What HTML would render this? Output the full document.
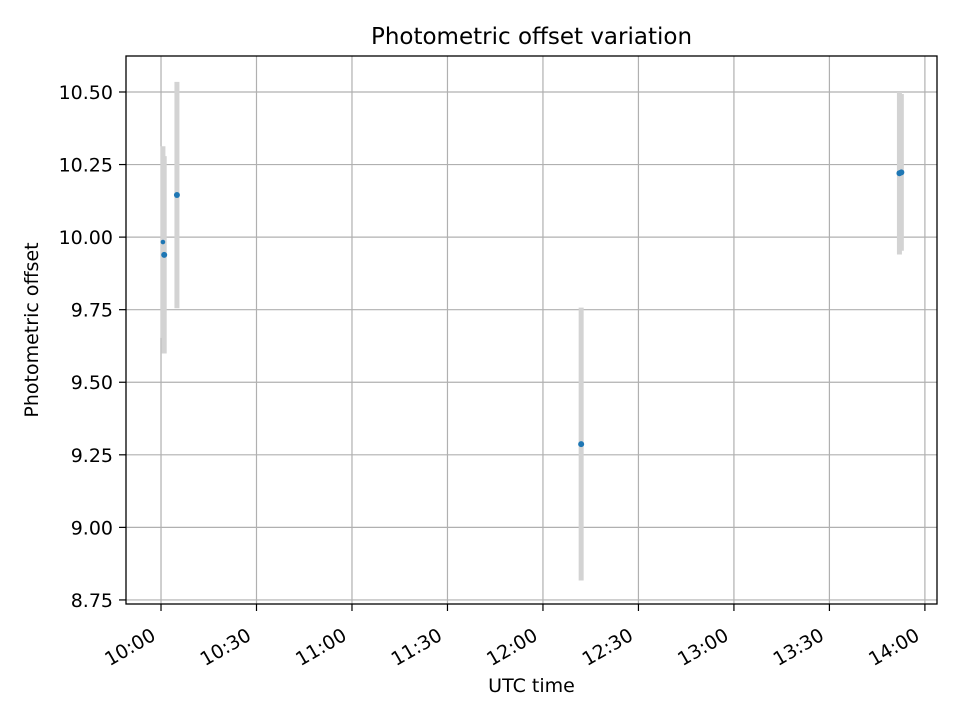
<!DOCTYPE html>
<html><head><meta charset="utf-8"><style>body{margin:0;background:#fff}svg text{font-family:"DejaVu Sans","Liberation Sans",sans-serif}</style></head>
<body>
<svg id="chart" width="960" height="720" xmlns="http://www.w3.org/2000/svg"></svg>
<script>
const timeLabels=["10:00","10:30","11:00","11:30","12:00","12:30","13:00","13:30","14:00"];
const yTicks=[8.75,9.00,9.25,9.50,9.75,10.00,10.25,10.50];
const times=[0.6,1.0,5.0,132.0,232.0,232.6];
const values=[9.983,9.939,10.145,9.287,10.220,10.223];
const errors=[0.33,0.34,0.39,0.47,0.28,0.27];
const pointSizes=[2.3,3,3,3,3,3];
const L=126,R=937,T=56,B=604,xmin=-11,xmax=243.8,ymin=8.736,ymax=10.624;
const X=m=>L+(m-xmin)/(xmax-xmin)*(R-L);
const Y=v=>B-(v-ymin)/(ymax-ymin)*(B-T);
const svg=document.getElementById('chart');const NS='http://www.w3.org/2000/svg';
function mk(t,a,p){const e=document.createElementNS(NS,t);for(const k in a)e.setAttribute(k,a[k]);(p||svg).appendChild(e);return e;}
const grid=mk('g',{});
timeLabels.forEach((lab,i)=>{const x=X(i*30);
mk('line',{x1:x,x2:x,y1:T,y2:B,stroke:'#b0b0b0','stroke-width':1.2},grid);
mk('line',{x1:x,x2:x,y1:B,y2:B+7,stroke:'#000','stroke-width':1.2});
const ax=x-4,ay=B+35;
const t=mk('text',{x:ax,y:ay,'font-size':19,'text-anchor':'end',transform:`rotate(-30 ${ax} ${ay})`});t.textContent=lab;
});
yTicks.forEach(v=>{const y=Y(v);
mk('line',{x1:L,x2:R,y1:y,y2:y,stroke:'#b0b0b0','stroke-width':1.2},grid);
mk('line',{x1:L-7,x2:L,y1:y,y2:y,stroke:'#000','stroke-width':1.2});
const t=mk('text',{x:L-13,y:y+7,'font-size':19,'text-anchor':'end'});t.textContent=v.toFixed(2);
});
const eb=mk('g',{});
times.forEach((m,i)=>{const b=mk('line',{x1:X(m),x2:X(m),y1:Y(values[i]+errors[i]),y2:Y(values[i]-errors[i]),stroke:'#d3d3d3','stroke-width':5},eb);
});
times.forEach((m,i)=>{const c=mk('circle',{cx:X(m),cy:Y(values[i]),r:pointSizes[i],fill:'#1f77b4'});
});
const f=mk('rect',{x:L,y:T,width:R-L,height:B-T,fill:'none',stroke:'#000','stroke-width':1.3});

let t=mk('text',{x:(L+R)/2,y:44,'font-size':23,'text-anchor':'middle'});t.textContent='Photometric offset variation';

t=mk('text',{x:(L+R)/2,y:692,'font-size':19,'text-anchor':'middle'});t.textContent='UTC time';

t=mk('text',{x:38,y:330,'font-size':19,'text-anchor':'middle',transform:'rotate(-90 38 330)'});t.textContent='Photometric offset';

</script>
</body></html>
